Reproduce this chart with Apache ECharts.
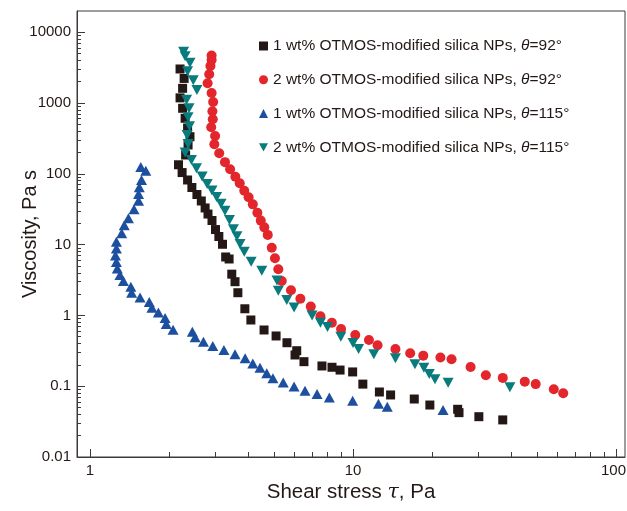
<!DOCTYPE html>
<html><head><meta charset="utf-8">
<script src="https://cdn.jsdelivr.net/npm/echarts@6/dist/echarts.min.js"></script>
<style>html,body{margin:0;padding:0;background:#fff}#c{width:627px;height:511px}</style>
</head><body><div id="c"></div>
<script>
const seriesNames = [
  '1 wt% OTMOS-modified silica NPs, θ=92°',
  '2 wt% OTMOS-modified silica NPs, θ=92°',
  '1 wt% OTMOS-modified silica NPs, θ=115°',
  '2 wt% OTMOS-modified silica NPs, θ=115°'
];
// [shear stress (Pa), viscosity (Pa s)]
const black1wt92 = [
[2.20,3020],[2.28,2220],[2.25,1610],[2.20,1180],[2.25,841],[2.30,608],[2.35,443],[2.40,334],[2.36,255],[2.31,184],[2.17,134],[2.24,104],[2.35,81.7],[2.44,64.0],[2.55,51.0],[2.65,41.3],[2.74,32.9],[2.81,27.0],[2.91,21.9],[3.00,16.3],[3.09,13.0],[3.19,10.1],[3.28,6.68],[3.38,6.26],[3.46,3.82],[3.56,2.99],[3.65,2.09],[3.88,1.24],[4.09,0.861],[4.59,0.622],[5.10,0.512],[5.61,0.411],[6.11,0.317],[6.02,0.276],[6.51,0.222],[7.62,0.193],[8.32,0.185],[8.93,0.169],[9.97,0.159],[10.9,0.107],[12.6,0.0828],[13.9,0.0752],[17.1,0.0659],[19.6,0.0542],[25.0,0.0472],[25.3,0.0423],[30.1,0.0371],[37.1,0.0334]
];
const red2wt92 = [
[2.90,4690],[2.90,4050],[2.87,3330],[2.84,2550],[2.80,1900],[2.90,1380],[2.94,1030],[2.92,763],[2.93,589],[2.89,454],[2.99,342],[2.97,261],[3.10,195],[3.26,146],[3.41,116],[3.57,91.0],[3.71,73.4],[3.86,57.5],[4.01,46.6],[4.16,37.0],[4.33,28.2],[4.46,21.8],[4.60,17.5],[4.74,13.7],[4.91,9.04],[5.05,6.40],[5.20,4.48],[5.36,3.06],[5.81,2.26],[6.31,1.72],[6.91,1.33],[7.52,0.970],[8.31,0.789],[9.01,0.643],[10.2,0.528],[11.5,0.450],[12.4,0.379],[14.5,0.335],[16.5,0.292],[18.5,0.270],[21.5,0.254],[23.7,0.240],[28.0,0.187],[32.0,0.143],[37.1,0.131],[45.0,0.116],[49.5,0.107],[58.0,0.0904],[63.0,0.0795]
];
const blue1wt115 = [
[1.56,125],[1.63,110],[1.57,81.7],[1.54,64.4],[1.53,51.9],[1.53,41.7],[1.47,31.5],[1.40,23.5],[1.35,18.7],[1.32,14.5],[1.26,11.0],[1.26,8.81],[1.25,7.01],[1.26,5.68],[1.27,4.59],[1.30,3.72],[1.34,3.06],[1.43,2.54],[1.44,2.09],[1.55,1.79],[1.68,1.55],[1.72,1.28],[1.82,1.10],[1.93,0.918],[1.95,0.757],[2.07,0.628],[2.45,0.589],[2.51,0.491],[2.70,0.426],[2.93,0.370],[3.23,0.324],[3.56,0.282],[3.89,0.248],[4.16,0.210],[4.43,0.182],[4.70,0.152],[4.96,0.129],[5.43,0.113],[5.97,0.0991],[6.57,0.0863],[7.30,0.0776],[8.13,0.0692],[9.97,0.0624],[12.5,0.0566],[13.5,0.0513],[22.0,0.0461]
];
const teal2wt115 = [
[2.27,5310],[2.30,4570],[2.40,3700],[2.35,2810],[2.47,2090],[2.55,1530],[2.33,1110],[2.38,841],[2.36,628],[2.39,469],[2.34,353],[2.36,264],[2.30,199],[2.43,157],[2.54,120],[2.67,91.6],[2.79,71.8],[2.91,58.1],[3.03,47.0],[3.15,37.8],[3.26,30.0],[3.39,22.2],[3.51,16.4],[3.62,13.1],[3.72,10.2],[3.86,7.94],[4.10,5.73],[4.50,4.28],[5.14,3.11],[5.20,2.23],[5.60,1.65],[5.97,1.29],[6.99,1.00],[7.52,0.789],[8.00,0.686],[8.99,0.500],[10.0,0.407],[10.5,0.334],[12.0,0.283],[14.5,0.248],[17.2,0.204],[18.6,0.182],[19.5,0.149],[20.5,0.125],[23.0,0.112],[39.5,0.0964]
];
const xMajorTicks = [1, 10, 100];
const xMinorTicks = [2,3,4,5,6,7,8,9,20,30,40,50,60,70,80,90];
const yMajorTicks = [0.01, 0.1, 1, 10, 100, 1000, 10000];
const yMinorTicks = [0.02,0.03,0.04,0.05,0.06,0.07,0.08,0.09,0.2,0.3,0.4,0.5,0.6,0.7,0.8,0.9,2,3,4,5,6,7,8,9,20,30,40,50,60,70,80,90,200,300,400,500,600,700,800,900,2000,3000,4000,5000,6000,7000,8000,9000];

const FONT = '"Liberation Sans", Arial, Helvetica, sans-serif';
const TXT = '#231815';
const AX = '#3e3a39';
const X_MIN = 0.8925, X_MAX = 108.2, Y_MIN = 0.01, Y_MAX = 19900;
const DOWN_TRI = 'path://M0,0L20,0L10,18Z';
const fmt = v => String(parseFloat(Number(v).toPrecision(6)));
const fmtX = v => { const s = fmt(v); return Number(v) >= 99 ? '{r|' + s + '}' : s; };

const chart = echarts.init(document.getElementById('c'), null, {renderer: 'canvas'});
const mainX = {
  type: 'log', logBase: 10, min: X_MIN, max: X_MAX, position: 'bottom',
  axisLine: {show: true, onZero: false, lineStyle: {color: AX, width: 1}},
  axisTick: {show: true, inside: true, length: 8, customValues: xMajorTicks, lineStyle: {color: AX}},
  axisLabel: {customValues: xMajorTicks, formatter: fmtX, color: TXT, fontSize: 15, fontFamily: FONT, margin: 6,
    rich: {r: {color: TXT, fontSize: 15, fontFamily: FONT, padding: [0, 5, 0, 0]}}},
  splitLine: {show: false},
  name: 'Shear stress {i|τ}, Pa', nameLocation: 'middle', nameGap: 25, nameMoveOverlap: false,
  nameTextStyle: {color: TXT, fontSize: 20.5, fontFamily: FONT,
    rich: {i: {fontStyle: 'italic', fontSize: 20.5, fontFamily: '"DejaVu Serif", serif', color: TXT}}}
};
const minorX = {
  type: 'log', logBase: 10, min: X_MIN, max: X_MAX, position: 'bottom',
  axisLine: {show: false},
  axisTick: {show: true, inside: true, length: 5, customValues: xMinorTicks, lineStyle: {color: AX}},
  axisLabel: {show: false}, splitLine: {show: false}
};
const mainY = {
  type: 'log', logBase: 10, min: Y_MIN, max: Y_MAX, position: 'left',
  axisLine: {show: true, onZero: false, lineStyle: {color: AX, width: 1}},
  axisTick: {show: true, inside: true, length: 8, customValues: yMajorTicks, lineStyle: {color: AX}},
  axisLabel: {customValues: yMajorTicks, formatter: fmt, color: TXT, fontSize: 15, fontFamily: FONT, margin: 6},
  splitLine: {show: false},
  name: 'Viscosity, Pa s', nameLocation: 'middle', nameGap: 37, nameMoveOverlap: false,
  nameTextStyle: {color: TXT, fontSize: 20, fontFamily: FONT}
};
const minorY = {
  type: 'log', logBase: 10, min: Y_MIN, max: Y_MAX, position: 'left',
  axisLine: {show: false},
  axisTick: {show: true, inside: true, length: 4, customValues: yMinorTicks, lineStyle: {color: AX}},
  axisLabel: {show: false}, splitLine: {show: false}
};
const mk = (name, data, symbol, size, color) => ({
  name, type: 'scatter', data, symbol, symbolSize: size,
  itemStyle: {color, opacity: 1}, xAxisIndex: 0, yAxisIndex: 0
});
chart.setOption({
  animation: false,
  backgroundColor: '#fff',
  grid: {left: 77, right: 2, top: 11, bottom: 54, show: true, borderColor: AX, borderWidth: 1,
    backgroundColor: 'transparent', containLabel: false, outerBoundsMode: 'none'},
  legend: {
    orient: 'vertical', left: 254, top: 33, itemWidth: 9, itemHeight: 9, itemGap: 17.8,
    data: seriesNames,
    formatter: n => n.replace('θ', '{i|θ}'),
    textStyle: {color: TXT, fontSize: 15.5, fontFamily: FONT,
      rich: {i: {fontStyle: 'italic', fontSize: 15.5, fontFamily: FONT, color: TXT}}}
  },
  xAxis: [mainX, minorX],
  yAxis: [mainY, minorY],
  series: [
    mk(seriesNames[0], black1wt92, 'rect', 9, '#231815'),
    mk(seriesNames[1], red2wt92, 'circle', 10, '#e2262b'),
    mk(seriesNames[2], blue1wt115, 'triangle', [11, 10], '#1d4f9f'),
    mk(seriesNames[3], teal2wt115, DOWN_TRI, [11, 10], '#0a7b7c')
  ]
});
</script></body></html>
